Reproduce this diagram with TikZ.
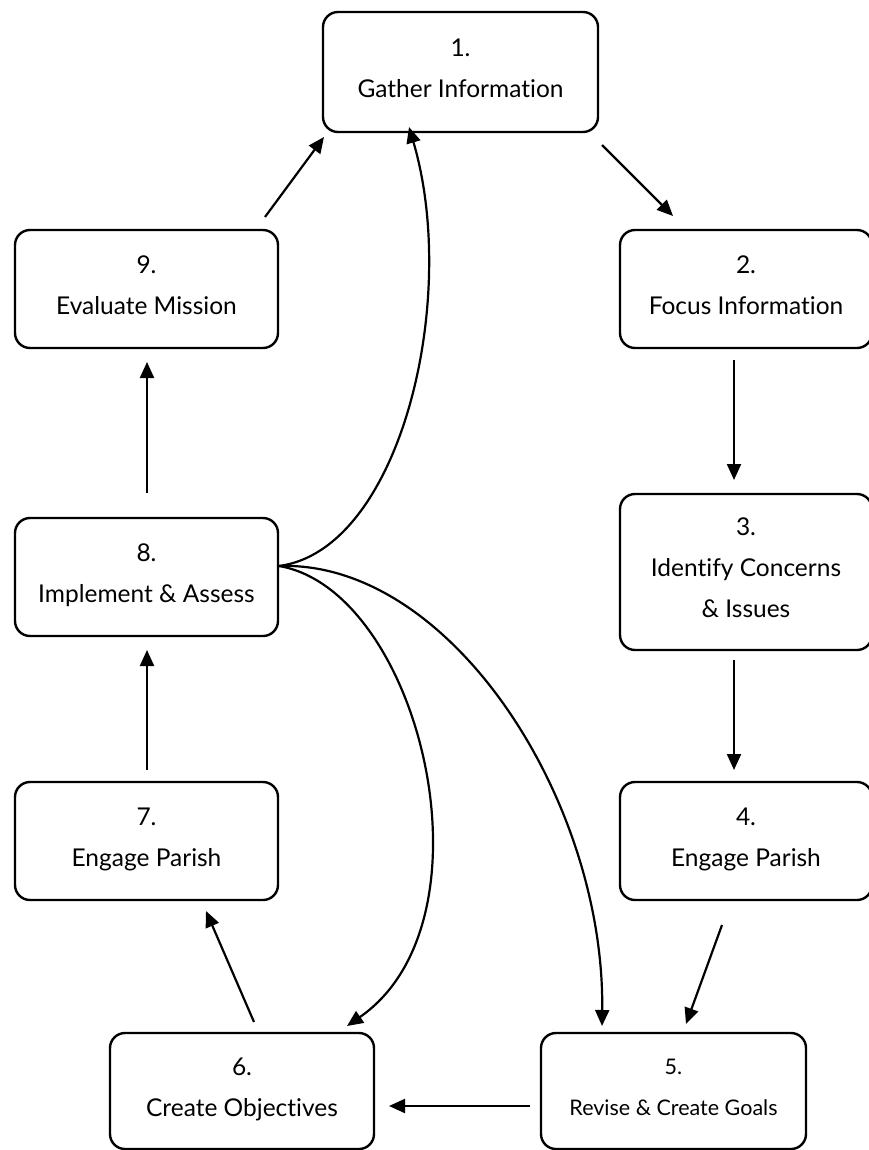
\documentclass[tikz,border=0pt]{standalone}
\usepackage{fontspec}
\setmainfont{Lato}[Ligatures=NoCommon]
\usetikzlibrary{arrows.meta}
\begin{document}
\begin{tikzpicture}[x=1pt,y=-1pt,
  box/.style={draw,line width=2.4pt,rounded corners=15pt,align=center,inner sep=0pt,
    font=\fontsize{24.5}{41}\selectfont,execute at end node={\rule[-8pt]{0pt}{0pt}}},
  arr/.style={line width=2.2pt,-{Triangle[length=16pt,width=14pt]}}]
\useasboundingbox (0,0) rectangle (869,1150);
\node[box,minimum width=275pt,minimum height=120pt] (b1) at (460.5,72) {1.\\Gather Information};
\node[box,minimum width=263pt,minimum height=118pt] (b9) at (146.5,289) {9.\\Evaluate Mission};
\node[box,minimum width=252pt,minimum height=118pt] (b2) at (746,289) {2.\\Focus Information};
\node[box,minimum width=252pt,minimum height=156pt] (b3) at (746,572) {3.\\Identify Concerns\\\& Issues};
\node[box,minimum width=263pt,minimum height=118pt] (b8) at (146.5,577) {8.\\Implement \& Assess};
\node[box,minimum width=263pt,minimum height=118pt] (b7) at (146.5,841) {7.\\Engage Parish};
\node[box,minimum width=252pt,minimum height=118pt] (b4) at (746,841) {4.\\Engage Parish};
\node[box,minimum width=264pt,minimum height=116pt] (b6) at (242,1091) {6.\\Create Objectives};
\node[box,minimum width=265pt,minimum height=116pt,font=\fontsize{21.5}{41}\selectfont] (b5) at (673.5,1091) {5.\\Revise \& Create Goals};
% connector end points
\coordinate (p9s) at (265,217); \coordinate (p1e) at (324,137);
\coordinate (p1s) at (602,145); \coordinate (p2e) at (673,216);
\coordinate (p2s) at (734,360); \coordinate (p3e) at (734,480);
\coordinate (p3s) at (734,660); \coordinate (p4e) at (734,770);
\coordinate (p4s) at (722,925); \coordinate (p5e) at (686,1024);
\coordinate (p5s) at (530,1106); \coordinate (p6e) at (389,1106);
\coordinate (p6s) at (254,1022); \coordinate (p7e) at (206,911);
\coordinate (p7s) at (147,770); \coordinate (p8e) at (147,650);
\coordinate (p8s) at (147,493); \coordinate (p9e) at (147,362);
\coordinate (o8) at (279,566);
\coordinate (c1e) at (409,127); \coordinate (c6e) at (347,1026); \coordinate (c5e) at (602,1026);
\draw[arr] (p9s) -- (p1e);
\draw[arr] (p1s) -- (p2e);
\draw[arr] (p2s) -- (p3e);
\draw[arr] (p3s) -- (p4e);
\draw[arr] (p4s) -- (p5e);
\draw[arr] (p5s) -- (p6e);
\draw[arr] (p6s) -- (p7e);
\draw[arr] (p7s) -- (p8e);
\draw[arr] (p8s) -- (p9e);
\draw[arr] (o8) .. controls (400,550) and (460,300) .. (c1e);
\draw[arr] (o8) .. controls (420,590) and (500,920) .. (c6e);
\draw[arr] (o8) .. controls (450,560) and (605,800) .. (c5e);
\end{tikzpicture}
\end{document}
